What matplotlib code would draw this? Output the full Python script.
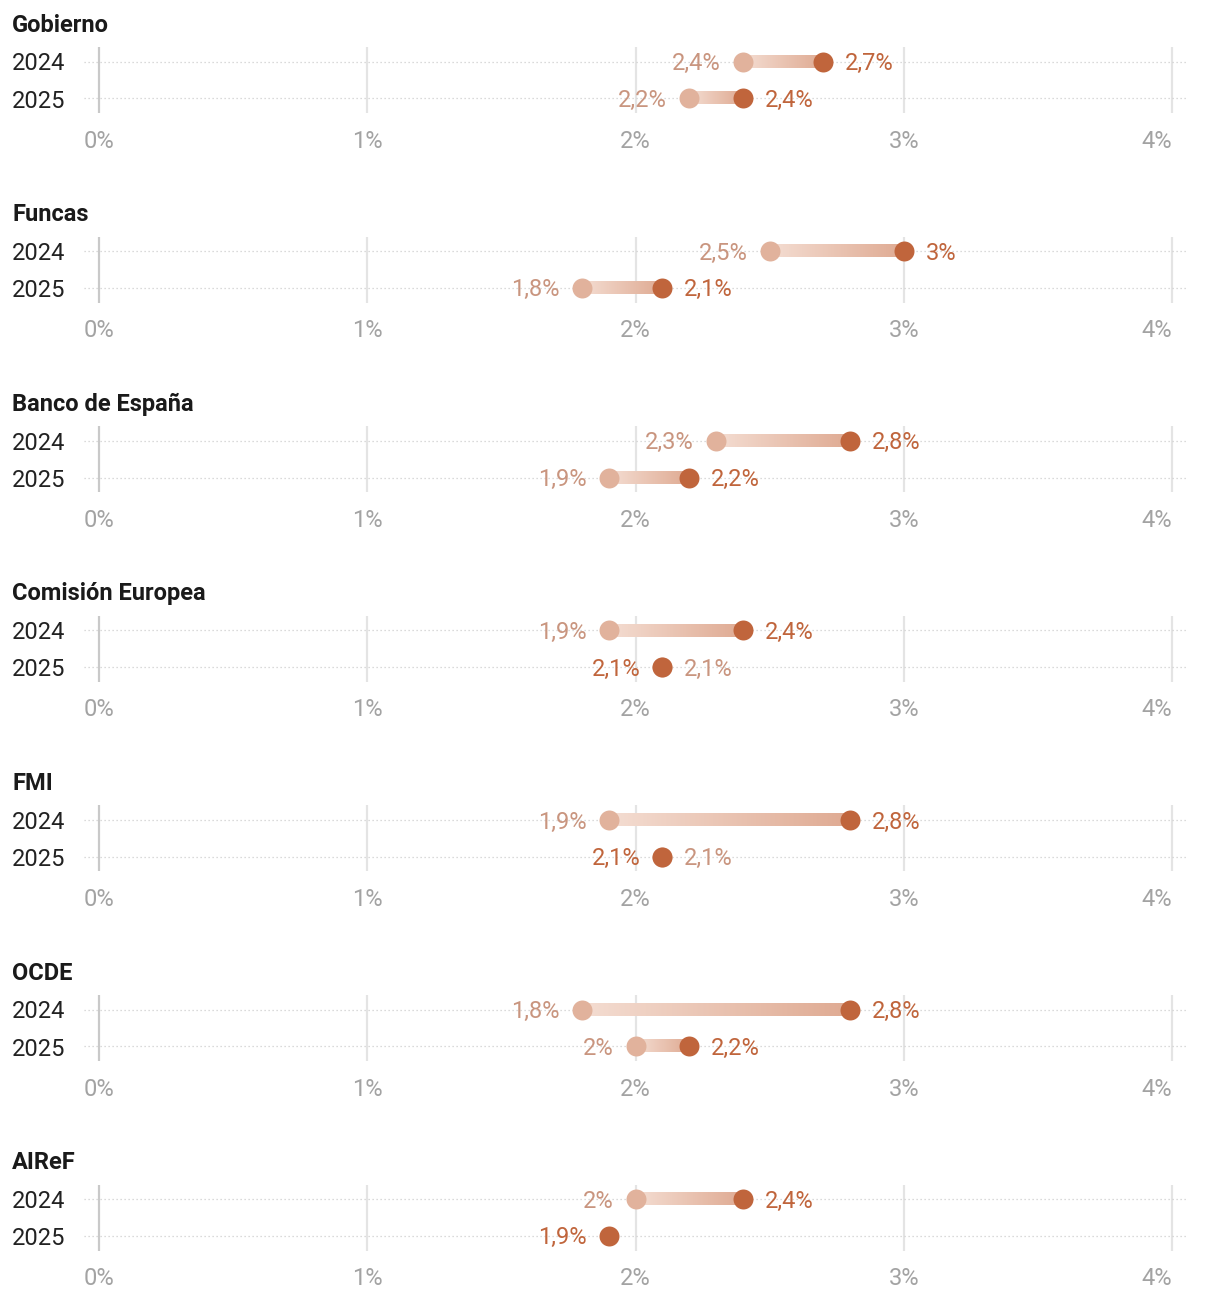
import numpy as np
import matplotlib
matplotlib.use("Agg")
import matplotlib.pyplot as plt
from matplotlib.colors import LinearSegmentedColormap

plt.rcParams['font.family'] = ['Roboto', 'DejaVu Sans']

# datos: previsión anterior (claro) y previsión actual (oscuro)
organismos = ['Gobierno', 'Funcas', 'Banco de España', 'Comisión Europea', 'FMI', 'OCDE', 'AIReF']
years = ['2024', '2025']
prev_2024 = [2.4, 2.5, 2.3, 1.9, 1.9, 1.8, 2.0]
act_2024 = [2.7, 3.0, 2.8, 2.4, 2.8, 2.8, 2.4]
prev_2025 = [2.2, 1.8, 1.9, 2.1, 2.1, 2.0, None]
act_2025 = [2.4, 2.1, 2.2, 2.1, 2.1, 2.2, 1.9]
xticks = [0, 1, 2, 3, 4]
xtick_labels = ['0%', '1%', '2%', '3%', '4%']

W, H = 1220, 1298
DPI = 100
c_light = '#e1b29c'
c_dark = '#c0653c'
c_light_txt = '#c9957f'
c_dark_txt = '#c0653c'
grad = LinearSegmentedColormap.from_list('grad', ['#f4ddd2', '#dfaa92'])
fs = 17
half_h = 0.165  # media altura de la barra en unidades de fila


def fmt(v):
    s = ('%.1f' % v).rstrip('0').rstrip('.')
    return s.replace('.', ',') + '%'


def gradient(ax, x0, x1, y):
    img = np.linspace(0, 1, 256).reshape(1, -1)
    ax.imshow(img, cmap=grad, aspect='auto', extent=(x0, x1, y + half_h, y - half_h),
              interpolation='bilinear', zorder=2)


fig = plt.figure(figsize=(W / DPI, H / DPI), dpi=DPI)
step = 189.6
xmin, xmax = -0.056, 4.052
left_px, right_px = 84, 1186

for k, org in enumerate(organismos):
    top = 47 + step * k
    bot = 113 + step * k
    ax = fig.add_axes([left_px / W, 1 - bot / H, (right_px - left_px) / W, (bot - top) / H])
    for s in ax.spines.values():
        s.set_visible(False)
    ax.set_yticks([])

    for xv in xticks:
        ax.axvline(xv, color='#c9c9c9' if xv == 0 else '#e4e4e4', lw=1.6, zorder=0)
    for yi in range(2):
        ax.axhline(yi, color='#cfcfcf', lw=0.9, ls=(0, (1, 2.2)), zorder=1)

    pairs = [(prev_2024[k], act_2024[k]), (prev_2025[k], act_2025[k])]
    for yi, (p, a) in enumerate(pairs):
        if p is not None and p != a:
            gradient(ax, p, a, yi)
        if p is not None:
            ax.scatter([p], [yi], s=207, color=c_light, zorder=3, linewidths=0)
        ax.scatter([a], [yi], s=207, color=c_dark, zorder=4, linewidths=0)
        # etiquetas
        if p is not None and p < a:
            ax.annotate(fmt(p), (p, yi), xytext=(-22, -2), textcoords='offset pixels',
                        ha='right', va='center', fontsize=fs, color=c_light_txt)
            ax.annotate(fmt(a), (a, yi), xytext=(22, -2), textcoords='offset pixels',
                        ha='left', va='center', fontsize=fs, color=c_dark_txt)
        else:
            ax.annotate(fmt(a), (a, yi), xytext=(-22, -2), textcoords='offset pixels',
                        ha='right', va='center', fontsize=fs, color=c_dark_txt)
            if p is not None:
                ax.annotate(fmt(p), (p, yi), xytext=(22, -2), textcoords='offset pixels',
                            ha='left', va='center', fontsize=fs, color=c_light_txt)

    ax.set_xlim(xmin, xmax)
    ax.set_ylim(1.4, -0.4)
    ax.set_xticks(xticks)
    ax.set_xticklabels(xtick_labels)
    ax.tick_params(axis='x', length=0, pad=12, labelsize=fs, labelcolor='#a3a3a3')
    ax.get_xticklabels()[-1].set_horizontalalignment('right')

    fig.text(12 / W, 1 - (25 + step * k) / H, org, ha='left', va='center',
             fontsize=fs, fontweight='bold', color='#1a1a1a')
    for yi, yr in enumerate(years):
        fig.text(12 / W, 1 - (64 + 37 * yi + step * k) / H, yr, ha='left', va='center',
                 fontsize=fs, color='#222222')

fig.savefig('out.png', dpi=DPI)
